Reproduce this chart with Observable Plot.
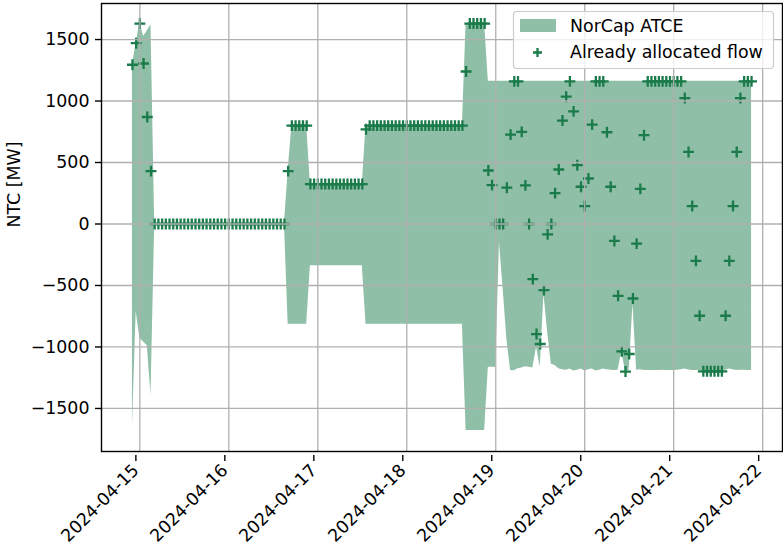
<!DOCTYPE html>
<html>
<head>
<meta charset="utf-8">
<script src="https://cdn.jsdelivr.net/npm/d3@7"></script>
<script src="https://cdn.jsdelivr.net/npm/@observablehq/plot@0.6"></script>
<style>
  html, body { margin: 0; padding: 0; background: white; }
  #chart { width: 783px; height: 547px; }
</style>
</head>
<body>
<div id="chart"></div>
<script>
// Hourly series, first hour 2024-04-14 22:00 UTC
const startHour = "2024-04-14T22:00:00Z";

const atceUpper = [
  1295, 1470, 1640, 1525, 1570, 1620,
  0, 0, 0, 0, 0, 0, 0, 0, 0, 0, 0, 0, 0, 0, 0, 0, 0, 0,
  0, 0, 0, 0, 0, 0, 0, 0, 0, 0, 0, 0, 0, 0, 0, 0, 0, 0,
  430,
  800, 800, 800, 800, 800,
  325, 325, 325, 325, 325, 325, 325, 325, 325, 325, 325, 325, 325, 325, 325,
  800, 800, 800, 800, 800, 800, 800, 800, 800, 800, 800, 800, 800, 800,
  800, 800, 800, 800, 800, 800, 800, 800, 800, 800, 800, 800, 800,
  1630, 1630, 1630, 1630, 1630, 1630,
  1160, 1160, 1160, 1160, 1160, 1160, 1160, 1160, 1160, 1160, 1160, 1160,
  1160, 1160, 1160, 1160, 1160, 1160, 1160, 1160, 1160, 1160, 1160, 1160,
  1160, 1160, 1160, 1160, 1160, 1160, 1160, 1160, 1160, 1160, 1160, 1160,
  1160, 1160, 1160, 1160, 1160, 1160, 1160, 1160, 1160, 1160, 1160, 1160,
  1160, 1160, 1160, 1160, 1160, 1160, 1160, 1160, 1160, 1160, 1160, 1160,
  1160, 1160, 1160, 1160, 1160, 1160, 1160, 1160, 1160, 1160, 1160, 1160
];

const atceLower = [
  -1650, -710, -930, -960, -990, -1390,
  0, 0, 0, 0, 0, 0, 0, 0, 0, 0, 0, 0, 0, 0, 0, 0, 0, 0,
  0, 0, 0, 0, 0, 0, 0, 0, 0, 0, 0, 0, 0, 0, 0, 0, 0, 0,
  -815, -815, -815, -815, -815, -815,
  -340, -340, -340, -340, -340, -340, -340, -340, -340, -340, -340, -340, -340, -340, -340,
  -815, -815, -815, -815, -815, -815, -815, -815, -815, -815, -815, -815, -815, -815,
  -815, -815, -815, -815, -815, -815, -815, -815, -815, -815, -815, -815, -815,
  -1680, -1680, -1680, -1680, -1680, -1680,
  -1165, -1165, -1165, -150, -530, -940,
  -1191, -1193, -1177, -1170, -1160, -1165, -1170,
  -1003, -1165, -570, -880, -1140,
  -1150, -1177, -1185, -1190, -1180, -1195, -1190, -1180, -1195, -1185, -1180, -1195,
  -1190, -1180, -1185, -1190, -1192,
  -1190, -1036, -1200, -1190, -650, -1190,
  -1185, -1192, -1192, -1192, -1192, -1192, -1190, -1192, -1192, -1192, -1190, -1185,
  -1180, -1188, -1192, -1192, -1192, -1192, -1192, -1192, -1192, -1192, -1192, -1190,
  -1180, -1185, -1192, -1190, -1190, -1192, -1192
];

const allocatedFlow = [
  1295, 1470, 1630, 1305, 870, 430,
  0, 0, 0, 0, 0, 0, 0, 0, 0, 0, 0, 0, 0, 0, 0, 0, 0, 0,
  0, 0, 0, 0, 0, 0, 0, 0, 0, 0, 0, 0, 0, 0, 0, 0, 0, 0,
  430,
  800, 800, 800, 800, 800,
  325, 325, 325, 325, 325, 325, 325, 325, 325, 325, 325, 325, 325, 325, 325,
  770,
  800, 800, 800, 800, 800, 800, 800, 800, 800, 800, 800, 800, 800,
  800, 800, 800, 800, 800, 800, 800, 800, 800, 800, 800, 800, 800,
  1240,
  1630, 1630, 1630, 1630, 1630,
  435, 316, 0, 0, 0, 295, 727, 1160, 1160, 749, 314, 0,
  -449, -895, -976, -538, -84, 0, 251, 443, 841, 1035, 1160, 916,
  478, 303, 146, 370, 808, 1160, 1160, 1160, 746, 303, -138, -584,
  -1036, -1200, -1057, -606, -160, 286, 722,
  1160, 1160, 1160, 1160, 1160, 1160, 1160, 1160, 1160, 1160,
  1024, 586, 146, -300, -746,
  -1198, -1198, -1198, -1198, -1198, -1198,
  -746, -300, 146, 586, 1024,
  1160, 1160, 1160
];

const xTickLabels = ["2024-04-15", "2024-04-16", "2024-04-17", "2024-04-18",
                     "2024-04-19", "2024-04-20", "2024-04-21", "2024-04-22"];
const yTickValues = [-1500, -1000, -500, 0, 500, 1000, 1500];
const legendLabels = ["NorCap ATCE", "Already allocated flow"];
const yLabel = "NTC [MW]";

const fillColor = "#8fbfa6";
const markColor = "#1b7b4b";

const t0 = new Date(startHour).getTime();
const HOUR = 3600e3;
const rows = atceUpper.map((hi, i) => ({
  t: new Date(t0 + i * HOUR),
  hi, lo: atceLower[i], flow: allocatedFlow[i]
}));
const xTicks = xTickLabels.map(s => new Date(s + "T00:00:00Z"));

const pad = 8.35 * HOUR;
const chart = Plot.plot({
  width: 783,
  height: 547,
  marginLeft: 101,
  marginRight: 1,
  marginTop: 3,
  marginBottom: 96,
  style: { fontFamily: "DejaVu Sans", fontSize: "17.4px", background: "white", color: "black" },
  x: { type: "utc", domain: [new Date(t0 - pad), new Date(t0 + 167 * HOUR + pad)] },
  y: { domain: [-1850, 1793] },
  marks: [
    Plot.areaY(rows, { x: "t", y1: "lo", y2: "hi", fill: fillColor, curve: "linear" }),
    Plot.dot(rows, { x: "t", y: "flow", symbol: "plus", stroke: markColor, strokeWidth: 2.3, r: 3.6 }),
    Plot.gridX(xTicks, { stroke: "#b0b0b0", strokeOpacity: 1, strokeWidth: 1.3 }),
    Plot.gridY(yTickValues, { stroke: "#b0b0b0", strokeOpacity: 1, strokeWidth: 1.3 }),
    Plot.axisY(yTickValues, { tickSize: 6, tickPadding: 6, strokeWidth: 1.4, tickFormat: d3.format("d"), label: null }),
    Plot.axisX(xTicks, { tickSize: 6, tickPadding: 6, strokeWidth: 1.4, tickRotate: -45, dx: -4, dy: 4,
      tickFormat: d3.utcFormat("%Y-%m-%d"), label: null }),
    Plot.frame({ stroke: "black", strokeWidth: 1.4 }),
    Plot.text([yLabel], { text: d => d, frameAnchor: "left", dx: -87, rotate: -90, fontSize: 17.4 })
  ]
});

// Legend (inside the axes, upper right)
const svg = d3.select(chart);
const lg = svg.append("g").attr("text-anchor", "start");
lg.append("rect").attr("x", 513.5).attr("y", 11.5).attr("width", 260).attr("height", 57)
  .attr("rx", 3.5).attr("fill", "white").attr("fill-opacity", 0.8)
  .attr("stroke", "#cccccc").attr("stroke-width", 1.2);
lg.append("rect").attr("x", 520).attr("y", 19).attr("width", 36).attr("height", 13).attr("fill", fillColor);
lg.append("path").attr("d", "M537.5,48V57M533,52.5H542")
  .attr("stroke", markColor).attr("stroke-width", 2.3).attr("fill", "none");
lg.selectAll("text.lbl").data(legendLabels).join("text")
  .attr("class", "lbl")
  .attr("x", 570)
  .attr("y", (d, i) => 25.5 + i * 26.5)
  .attr("dy", "0.36em")
  .attr("text-anchor", "start")
  .attr("font-family", "DejaVu Sans")
  .attr("font-size", "17.4px")
  .attr("fill", "black")
  .text(d => d);

document.getElementById("chart").appendChild(chart);
</script>
</body>
</html>
